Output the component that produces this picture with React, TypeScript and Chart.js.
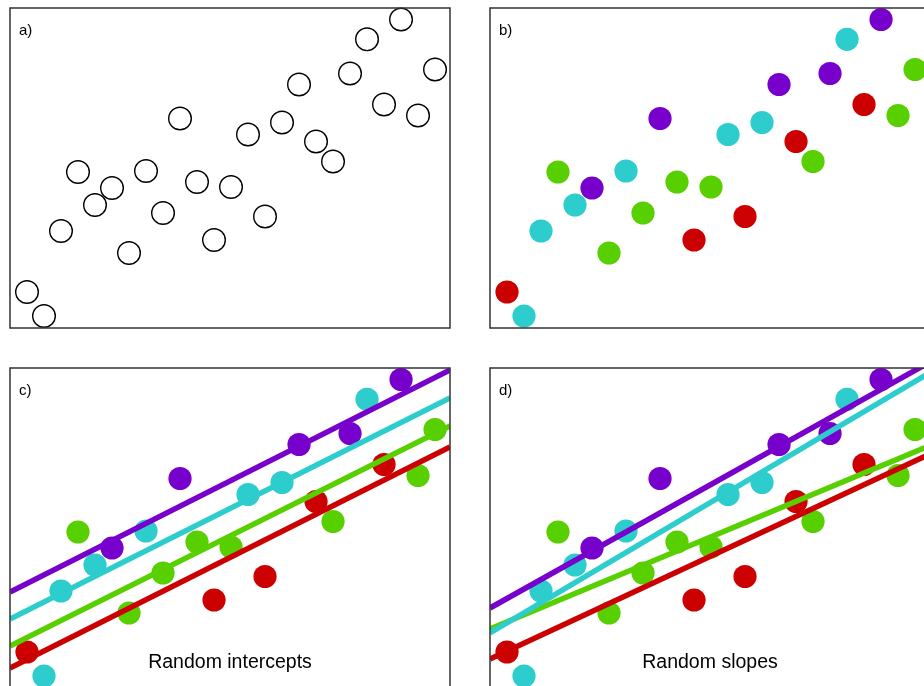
import React, { useEffect, useRef } from "react";
import { Chart, registerables } from "chart.js";

Chart.register(...registerables);

// ---------- data ----------
const xValues = [1, 2, 3, 4, 5, 6, 7, 8, 9, 10, 11, 12, 13, 14, 15, 16, 17, 18, 19, 20, 21, 22, 23, 24, 25];
const yValues = [
  3.6, 1.2, 9.7, 15.6, 12.3, 14.0, 7.5, 15.7, 11.5, 20.95, 14.6, 8.8, 14.1,
  19.35, 11.15, 20.55, 24.35, 18.65, 16.65, 25.45, 28.87, 22.35, 30.85, 21.25, 25.85,
];
// group index per point: 0 red, 1 cyan, 2 green, 3 purple
const groupOf = [0, 1, 1, 2, 1, 3, 2, 1, 2, 3, 2, 0, 2, 1, 0, 1, 3, 0, 2, 3, 1, 0, 3, 2, 2];
const groupNames = ["red", "cyan", "green", "purple"];
const groupColors = ["#CC0000", "#2DCDCD", "#58D000", "#7800CC"];

// fitted lines: value at x = X_MIN and at x = X_MAX for each group
const interceptLineStart = [2.0, 6.9, 4.2, 9.6];
const interceptLineEnd = [24.1, 29.0, 26.2, 31.8];
const slopeLineStart = [2.9, 5.5, 5.9, 8.0];
const slopeLineEnd = [23.4, 31.55, 24.25, 32.6];

const panelLabels = ["a)", "b)", "c)", "d)"];
const panelCaptions = ["", "", "Random intercepts", "Random slopes"];

const X_MIN = 0;
const X_MAX = 25.88;
const Y_MIN = 0;
const Y_MAX = 32;

type Mode = "open" | "colored" | "intercepts" | "slopes";

const panelPlugin = {
  id: "panelDecor",
  afterDraw(chart: any, _args: any, opts: any) {
    const { ctx, chartArea } = chart;
    const { left, top, right, bottom } = chartArea;
    ctx.save();
    ctx.strokeStyle = "#333333";
    ctx.lineWidth = 1.5;
    ctx.strokeRect(left, top, right - left, bottom - top);
    ctx.fillStyle = "#000000";
    ctx.textBaseline = "alphabetic";
    ctx.font = '15px "Liberation Sans", Arial, sans-serif';
    ctx.textAlign = "left";
    if (opts.label) ctx.fillText(opts.label, left + 9, top + 27);
    if (opts.caption) {
      ctx.font = '19.5px "Liberation Sans", Arial, sans-serif';
      ctx.textAlign = "center";
      ctx.fillText(opts.caption, (left + right) / 2, top + 300);
    }
    ctx.restore();
  },
};

function buildDatasets(mode: Mode) {
  const ds: any[] = [];
  if (mode === "open") {
    ds.push({
      label: "points",
      data: xValues.map((x, i) => ({ x, y: yValues[i] })),
      pointRadius: 11.3,
      pointBorderWidth: 1.4,
      pointBorderColor: "#000000",
      pointBackgroundColor: "rgba(0,0,0,0)",
      showLine: false,
      clip: false,
      order: 1,
    });
    return ds;
  }
  groupNames.forEach((name, g) => {
    ds.push({
      label: name,
      data: xValues
        .map((x, i) => ({ x, y: yValues[i], g: groupOf[i] }))
        .filter((p) => p.g === g)
        .map((p) => ({ x: p.x, y: p.y })),
      pointRadius: 11.6,
      pointBorderWidth: 0,
      pointBackgroundColor: groupColors[g],
      pointBorderColor: groupColors[g],
      showLine: false,
      clip: false,
      order: 1,
    });
  });
  if (mode === "intercepts" || mode === "slopes") {
    const starts = mode === "intercepts" ? interceptLineStart : slopeLineStart;
    const ends = mode === "intercepts" ? interceptLineEnd : slopeLineEnd;
    groupNames.forEach((name, g) => {
      ds.push({
        label: name + " fit",
        data: [
          { x: X_MIN, y: starts[g] },
          { x: X_MAX, y: ends[g] },
        ],
        showLine: true,
        borderColor: groupColors[g],
        borderWidth: 5.5,
        pointRadius: 0,
        clip: 0,
        order: 0,
      });
    });
  }
  return ds;
}

function Panel({ left, top, index, mode }: { left: number; top: number; index: number; mode: Mode }) {
  const ref = useRef<HTMLCanvasElement>(null);
  useEffect(() => {
    if (!ref.current) return;
    const chart = new Chart(ref.current, {
      type: "scatter",
      data: { datasets: buildDatasets(mode) },
      options: {
        responsive: false,
        maintainAspectRatio: false,
        devicePixelRatio: 1,
        animation: false,
        events: [],
        layout: { padding: 2, autoPadding: false },
        scales: {
          x: { type: "linear", min: X_MIN, max: X_MAX, display: false },
          y: { type: "linear", min: Y_MIN, max: Y_MAX, display: false },
        },
        plugins: {
          legend: { display: false },
          tooltip: { enabled: false },
          panelDecor: { label: panelLabels[index], caption: panelCaptions[index] },
        } as any,
      },
      plugins: [panelPlugin],
    });
    return () => chart.destroy();
  }, [mode, index]);
  return (
    <canvas
      ref={ref}
      width={444}
      height={324}
      style={{ position: "absolute", left: left - 2, top: top - 2, width: 444, height: 324 }}
    />
  );
}

export default function App() {
  return (
    <div
      style={{
        position: "fixed",
        left: 0,
        top: 0,
        width: 924,
        height: 686,
        overflow: "hidden",
        background: "#ffffff",
      }}
    >
      <Panel left={10} top={8} index={0} mode="open" />
      <Panel left={490} top={8} index={1} mode="colored" />
      <Panel left={10} top={368} index={2} mode="intercepts" />
      <Panel left={490} top={368} index={3} mode="slopes" />
    </div>
  );
}
